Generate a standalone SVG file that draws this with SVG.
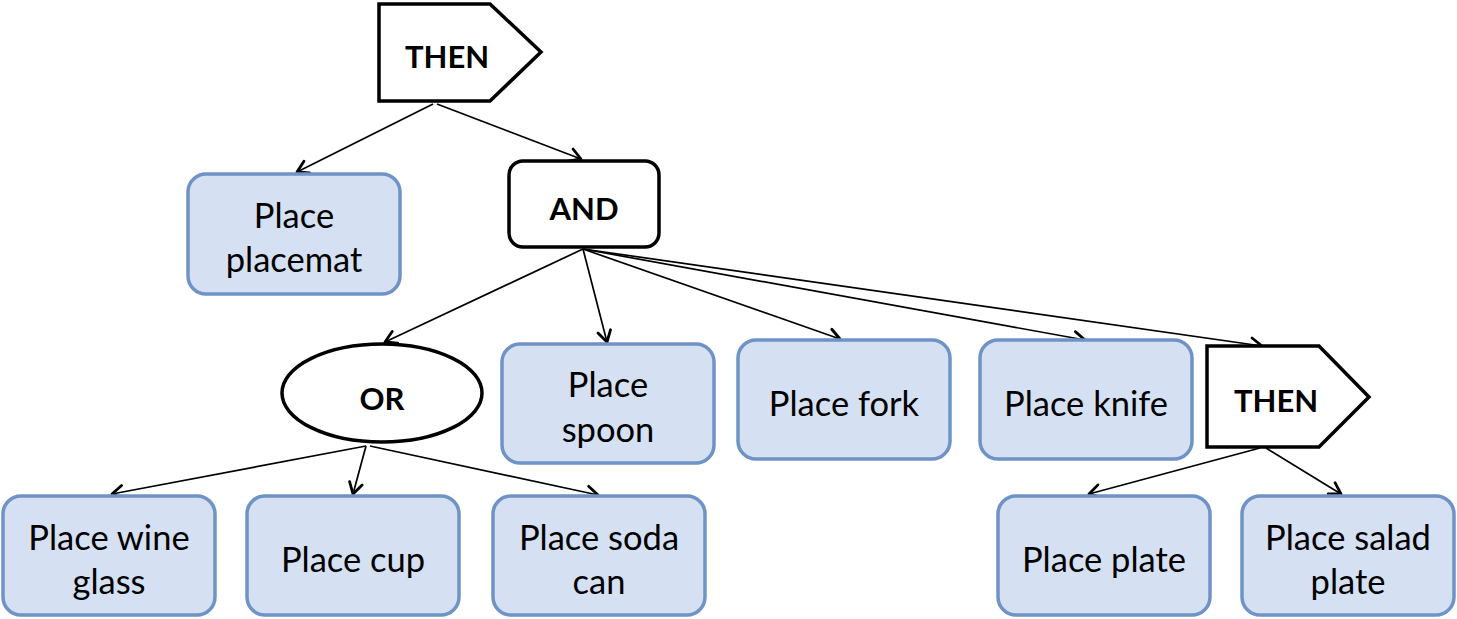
<svg xmlns="http://www.w3.org/2000/svg" width="1457" height="619" viewBox="0 0 1457 619">
<style>
.task rect{fill:#d5e1f3;stroke:#7093c6;stroke-width:3.5}
.ctl{fill:#fff;stroke:#000;stroke-width:3.5}
text{font-family:Lato,"Liberation Sans",sans-serif;font-size:34.5px;fill:#000;text-anchor:middle}
.b{font-weight:bold;font-size:31px}
#edges line{stroke:#000;stroke-width:1.7;marker-end:url(#arr)}
</style>
<defs>
<marker id="arr" markerUnits="userSpaceOnUse" markerWidth="18" markerHeight="18" refX="13" refY="8" orient="auto" viewBox="0 0 18 16">
<path d="M2,1.5 L13,8 L2,14.5" fill="none" stroke="#000" stroke-width="2.8" stroke-linecap="round" stroke-linejoin="round"/>
</marker>
</defs>
<g id="edges">
<line x1="433" y1="104" x2="297" y2="172"/>
<line x1="437" y1="104" x2="581" y2="159"/>
<line x1="583" y1="249" x2="385" y2="342"/>
<line x1="583" y1="249" x2="607" y2="342"/>
<line x1="583" y1="249" x2="840" y2="339"/>
<line x1="583" y1="249" x2="1085" y2="340"/>
<line x1="583" y1="249" x2="1262" y2="346"/>
<line x1="366" y1="446" x2="112" y2="494"/>
<line x1="366" y1="446" x2="353" y2="494"/>
<line x1="370" y1="446" x2="598" y2="495"/>
<line x1="1260" y1="448" x2="1089" y2="494"/>
<line x1="1266" y1="448" x2="1341" y2="494"/>
</g>
<g id="then1"><polygon class="ctl" points="379,4 490,4 541,52 490,101 379,101"/><text class="b" x="447" y="68">THEN</text></g>
<g id="placemat" class="task"><rect x="188" y="174" width="212" height="120" rx="18"/><text x="294" y="228">Place</text><text x="294" y="272">placemat</text></g>
<g id="and"><rect class="ctl" x="509" y="161" width="150" height="86" rx="14"/><text class="b" x="584" y="220">AND</text></g>
<g id="or"><ellipse class="ctl" cx="382" cy="393" rx="100" ry="49"/><text class="b" x="382" y="410">OR</text></g>
<g id="spoon" class="task"><rect x="502" y="344" width="212" height="119" rx="18"/><text x="608" y="397">Place</text><text x="608" y="442">spoon</text></g>
<g id="fork" class="task"><rect x="738" y="340" width="212" height="119" rx="18"/><text x="844" y="416">Place fork</text></g>
<g id="knife" class="task"><rect x="980" y="340" width="212" height="119" rx="18"/><text x="1086" y="416">Place knife</text></g>
<g id="then2"><polygon class="ctl" points="1207,346 1319,346 1369,397 1319,447 1207,447"/><text class="b" x="1276" y="412">THEN</text></g>
<g id="wine" class="task"><rect x="3" y="496" width="212" height="119" rx="18"/><text x="109" y="550">Place wine</text><text x="109" y="594">glass</text></g>
<g id="cup" class="task"><rect x="247" y="496" width="212" height="119" rx="18"/><text x="353" y="572">Place cup</text></g>
<g id="soda" class="task"><rect x="493" y="496" width="212" height="119" rx="18"/><text x="599" y="550">Place soda</text><text x="599" y="594">can</text></g>
<g id="plate" class="task"><rect x="998" y="496" width="212" height="119" rx="18"/><text x="1104" y="572">Place plate</text></g>
<g id="salad" class="task"><rect x="1242" y="496" width="212" height="119" rx="18"/><text x="1348" y="550">Place salad</text><text x="1348" y="594">plate</text></g>
</svg>
